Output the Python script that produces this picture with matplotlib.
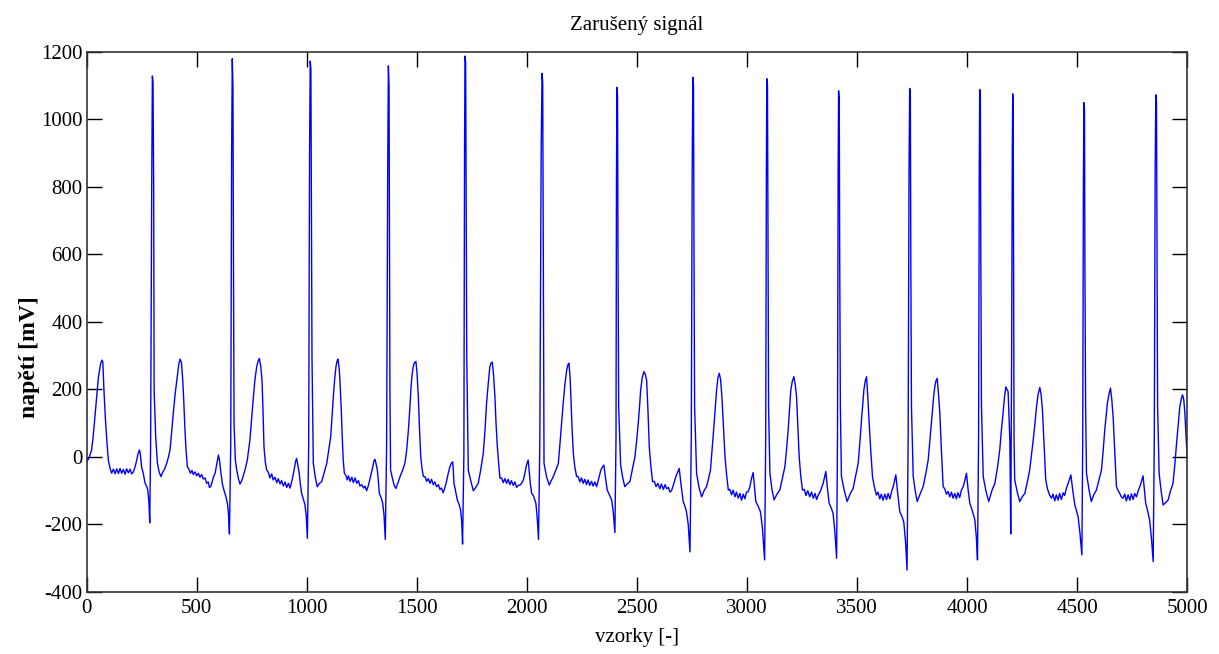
import numpy as np
import matplotlib
matplotlib.use('Agg')
import matplotlib.pyplot as plt

# body EKG signalu (vzorek, napeti v mV), po jednotlivych uderech
beat_01 = [(0, -18), (4, -5), (8, -8), (15, 5), (23, 21), (30, 60), (38, 119), (46, 180), (54, 237), (60, 262),
	(64, 277), (70, 287), (74, 282), (79, 198), (85, 120), (92, 50), (99, -10), (107, -34), (114, -48), (122, -36),
	(130, -50), (137, -35), (145, -49), (152, -34), (160, -48), (167, -37), (175, -51), (182, -35), (190, -47),
	(198, -36), (205, -50), (213, -44), (220, -30), (228, -9), (234, 10), (240, 21), (244, 10), (250, -29),
	(258, -50), (266, -78), (272, -85), (278, -98), (283, -130), (287, -195), (291, 35), (296, 800), (299, 1129),
	(302, 1110), (305, 780), (307, 198)]
beat_02 = [(314, 60), (322, -19), (330, -45), (338, -58), (346, -45), (355, -35), (364, -19), (372, 0), (379, 21),
	(386, 70), (394, 130), (403, 190), (412, 238), (419, 275), (425, 290), (431, 280), (437, 228), (442, 160),
	(447, 80), (452, 20), (458, -29), (465, -36), (472, -48), (479, -40), (485, -52), (493, -44), (500, -56),
	(508, -48), (515, -60), (523, -52), (530, -65), (538, -62), (546, -78), (553, -74), (558, -90), (564, -88),
	(570, -75), (576, -60), (584, -48), (592, -20), (599, 6), (604, -10), (609, -40), (617, -80), (624, -98),
	(632, -115), (640, -138), (645, -170), (649, -228), (655, 40), (659, 900), (662, 1180), (665, 1100),
	(667, 650), (670, 100)]
beat_03 = [(676, -10), (682, -38), (690, -65), (697, -80), (705, -70), (712, -55), (720, -38), (730, -10), (742, 50),
	(750, 115), (758, 179), (765, 230), (773, 268), (780, 285), (785, 292), (791, 270), (797, 228), (801, 150),
	(806, 30), (812, -15), (818, -38), (826, -46), (833, -62), (841, -50), (848, -68), (856, -60), (864, -76),
	(871, -64), (879, -80), (886, -70), (894, -86), (902, -74), (909, -90), (917, -78), (924, -92), (932, -73),
	(938, -55), (944, -34), (950, -12), (954, -4), (960, -25), (966, -48), (972, -85), (977, -108), (985, -125),
	(992, -142), (998, -175), (1003, -241), (1009, 30), (1013, 900), (1016, 1173), (1019, 1150), (1021, 800),
	(1024, 300)]
beat_04 = [(1030, -19), (1039, -60), (1048, -88), (1058, -78), (1068, -73), (1080, -45), (1091, -19), (1100, 20),
	(1109, 60), (1115, 120), (1121, 179), (1127, 230), (1133, 268), (1138, 284), (1142, 290), (1147, 265),
	(1151, 228), (1157, 140), (1162, 50), (1166, -10), (1171, -48), (1178, -54), (1184, -68), (1190, -56),
	(1197, -72), (1205, -60), (1212, -76), (1220, -62), (1227, -78), (1235, -70), (1242, -86), (1250, -82),
	(1258, -92), (1265, -86), (1272, -100), (1280, -85), (1290, -58), (1300, -30), (1306, -10), (1310, -7),
	(1315, -20), (1321, -39), (1326, -75), (1330, -108), (1338, -120), (1345, -137), (1351, -170), (1357, -244),
	(1363, 31), (1368, 850), (1371, 1159), (1374, 1100), (1376, 600), (1378, 200)]
beat_05 = [(1381, -39), (1390, -65), (1398, -85), (1405, -93), (1414, -78), (1424, -58), (1435, -40), (1446, -19),
	(1454, 20), (1462, 80), (1468, 140), (1474, 208), (1479, 245), (1484, 268), (1490, 280), (1496, 283),
	(1501, 250), (1507, 179), (1512, 90), (1518, 1), (1524, -35), (1530, -58), (1537, -58), (1545, -72),
	(1552, -64), (1560, -78), (1567, -66), (1575, -82), (1582, -74), (1590, -88), (1598, -82), (1605, -96),
	(1612, -92), (1620, -106), (1628, -90), (1636, -70), (1643, -48), (1650, -30), (1656, -20), (1663, -14),
	(1666, -40), (1669, -78), (1676, -100), (1684, -127), (1692, -140), (1699, -157), (1704, -190), (1708, -258),
	(1714, 11), (1717, 900), (1719, 1188), (1722, 1170), (1724, 800), (1727, 300)]
beat_06 = [(1734, -39), (1745, -70), (1757, -100), (1768, -90), (1779, -78), (1790, -40), (1802, 11), (1810, 80),
	(1817, 159), (1825, 220), (1832, 268), (1837, 278), (1843, 281), (1849, 240), (1855, 179), (1860, 100),
	(1866, 31), (1872, -20), (1878, -63), (1885, -62), (1893, -76), (1900, -64), (1908, -78), (1915, -66),
	(1923, -82), (1930, -70), (1938, -84), (1946, -74), (1953, -90), (1961, -84), (1969, -83), (1976, -78),
	(1984, -68), (1991, -48), (1998, -25), (2006, -9), (2012, -50), (2016, -80), (2022, -108), (2030, -115),
	(2041, -137), (2047, -180), (2053, -244), (2059, 50), (2065, 900), (2069, 1137), (2072, 1110), (2074, 700),
	(2076, 200)]
beat_07 = [(2078, -19), (2090, -60), (2102, -83), (2111, -70), (2120, -58), (2131, -40), (2143, -19), (2148, 20),
	(2153, 60), (2159, 110), (2165, 159), (2173, 215), (2181, 258), (2186, 272), (2191, 278), (2196, 240),
	(2200, 179), (2205, 90), (2211, 11), (2218, -30), (2226, -58), (2233, -58), (2241, -74), (2248, -62),
	(2256, -78), (2263, -66), (2271, -82), (2278, -68), (2286, -84), (2294, -72), (2301, -86), (2309, -74),
	(2317, -88), (2326, -65), (2336, -39), (2343, -30), (2350, -24), (2356, -55), (2365, -98), (2375, -112),
	(2385, -127), (2392, -160), (2400, -224), (2405, 60), (2407, 800), (2409, 1095), (2412, 1070), (2414, 600),
	(2417, 150)]
beat_08 = [(2426, -24), (2435, -60), (2445, -88), (2456, -80), (2468, -73), (2480, -35), (2491, 1), (2499, 50),
	(2506, 100), (2512, 150), (2517, 199), (2524, 235), (2532, 253), (2538, 245), (2544, 228), (2550, 140),
	(2556, 31), (2563, -25), (2571, -73), (2579, -72), (2587, -88), (2595, -78), (2604, -94), (2611, -80),
	(2620, -96), (2628, -82), (2635, -94), (2643, -90), (2650, -104), (2657, -100), (2667, -80), (2677, -58),
	(2685, -45), (2692, -34), (2700, -80), (2710, -132), (2718, -145), (2725, -162), (2733, -200), (2741, -281),
	(2747, 60), (2751, 850), (2754, 1125), (2757, 1100), (2759, 650), (2762, 150)]
beat_09 = [(2771, -48), (2782, -90), (2794, -118), (2805, -100), (2816, -88), (2825, -65), (2834, -39), (2840, 10),
	(2846, 60), (2854, 130), (2862, 199), (2868, 235), (2874, 248), (2880, 230), (2886, 179), (2893, 90),
	(2900, 1), (2907, -50), (2915, -98), (2922, -96), (2930, -112), (2937, -98), (2945, -118), (2952, -104),
	(2960, -122), (2968, -108), (2975, -128), (2983, -110), (2990, -124), (2998, -104), (3005, -103), (3013, -88),
	(3020, -65), (3028, -46), (3034, -90), (3040, -132), (3050, -145), (3061, -162), (3070, -210), (3080, -305),
	(3085, 60), (3088, 850), (3090, 1121), (3093, 1100), (3095, 700), (3098, 150)]
beat_10 = [(3104, -48), (3113, -95), (3123, -127), (3136, -110), (3149, -98), (3160, -65), (3172, -29), (3180, 25),
	(3187, 80), (3193, 140), (3199, 199), (3206, 225), (3213, 238), (3219, 215), (3225, 179), (3231, 90),
	(3237, 1), (3244, -55), (3252, -98), (3260, -96), (3268, -114), (3276, -100), (3285, -118), (3293, -104),
	(3301, -122), (3309, -108), (3316, -126), (3323, -114), (3334, -100), (3346, -78), (3352, -60), (3358, -43),
	(3365, -90), (3373, -137), (3382, -150), (3391, -167), (3399, -220), (3407, -300), (3411, 50), (3414, 850),
	(3416, 1085), (3419, 1060), (3421, 600), (3424, 150)]
beat_11 = [(3429, -58), (3442, -100), (3455, -132), (3468, -110), (3482, -93), (3494, -55), (3505, -19), (3513, 45),
	(3520, 110), (3526, 160), (3531, 199), (3537, 225), (3543, 238), (3549, 175), (3555, 100), (3562, 20),
	(3570, -58), (3579, -90), (3588, -113), (3595, -104), (3603, -124), (3610, -110), (3618, -128), (3626, -110),
	(3634, -126), (3641, -108), (3649, -124), (3657, -102), (3664, -88), (3670, -70), (3676, -53), (3685, -110),
	(3694, -162), (3703, -175), (3712, -192), (3720, -250), (3727, -335), (3732, 60), (3736, 850), (3739, 1092),
	(3742, 1070), (3744, 600), (3747, 150)]
beat_12 = [(3755, -58), (3764, -100), (3773, -132), (3786, -110), (3800, -88), (3812, -50), (3823, -9), (3832, 60),
	(3842, 139), (3848, 180), (3853, 208), (3858, 225), (3864, 233), (3870, 185), (3876, 129), (3883, 20),
	(3891, -88), (3898, -94), (3906, -110), (3913, -102), (3921, -118), (3929, -104), (3936, -122), (3944, -108),
	(3951, -124), (3958, -106), (3966, -120), (3974, -98), (3982, -88), (3990, -68), (3997, -48), (4004, -95),
	(4012, -137), (4024, -160), (4035, -187), (4042, -240), (4047, -305), (4052, 60), (4055, 850), (4057, 1089),
	(4060, 1070), (4062, 600), (4065, 150)]
beat_13 = [(4073, -58), (4085, -100), (4098, -132), (4112, -100), (4126, -78), (4138, -30), (4148, 21), (4155, 75),
	(4163, 129), (4170, 180), (4176, 208), (4181, 200), (4186, 194), (4190, 120), (4194, 50), (4196, -100),
	(4198, -228), (4202, 300), (4205, 900), (4207, 1076), (4209, 1050), (4211, 500), (4213, 50)]
beat_14 = [(4216, -68), (4228, -105), (4239, -132), (4250, -118), (4262, -108), (4273, -75), (4284, -39), (4292, 5),
	(4300, 50), (4308, 100), (4315, 149), (4322, 185), (4330, 206), (4336, 185), (4342, 139), (4350, 30),
	(4357, -68), (4365, -95), (4374, -112), (4383, -122), (4390, -110), (4398, -130), (4405, -112), (4413, -128),
	(4420, -108), (4428, -126), (4436, -106), (4443, -114), (4451, -92), (4459, -78), (4465, -65), (4471, -53),
	(4480, -100), (4489, -142), (4497, -160), (4504, -177), (4513, -230), (4521, -290), (4525, 50), (4528, 800),
	(4530, 1050), (4533, 1030), (4535, 550), (4538, 150)]
beat_15 = [(4542, -48), (4553, -95), (4564, -132), (4575, -112), (4587, -98), (4598, -70), (4610, -39), (4618, 20),
	(4625, 80), (4631, 120), (4637, 159), (4644, 185), (4651, 204), (4657, 170), (4663, 120), (4670, 20),
	(4678, -88), (4686, -100), (4693, -108), (4700, -118), (4708, -122), (4716, -110), (4723, -130), (4731, -112),
	(4739, -128), (4746, -109), (4754, -126), (4761, -108), (4769, -118), (4778, -98), (4787, -83), (4793, -70),
	(4799, -56), (4805, -95), (4811, -137), (4820, -160), (4829, -187), (4837, -240), (4845, -310), (4850, 50),
	(4854, 850), (4857, 1073), (4860, 1050), (4862, 650), (4865, 150)]
beat_16 = [(4872, -48), (4881, -100), (4890, -142), (4902, -135), (4913, -127), (4924, -100), (4935, -78), (4943, -25),
	(4950, 31), (4958, 90), (4966, 149), (4972, 170), (4978, 184), (4981, 178), (4984, 169), (4989, 130),
	(4993, 80), (4997, 30), (4999, 1)]

x_ticks = [0, 500, 1000, 1500, 2000, 2500, 3000, 3500, 4000, 4500, 5000]
y_ticks = [-400, -200, 0, 200, 400, 600, 800, 1000, 1200]


def main():
	beats = [beat_01, beat_02, beat_03, beat_04, beat_05, beat_06, beat_07, beat_08,
		beat_09, beat_10, beat_11, beat_12, beat_13, beat_14, beat_15, beat_16]
	points = np.array([p for b in beats for p in b], dtype=float)

	plt.rcParams['font.family'] = ['Liberation Serif', 'DejaVu Serif']
	plt.rcParams['axes.unicode_minus'] = False

	fig = plt.figure(figsize=(12.19, 6.54), dpi=100)
	ax = fig.add_axes([0.071, 0.0948, 0.903, 0.8257])

	ax.plot(points[:, 0], points[:, 1], color='#0000ff', linewidth=1.0)

	ax.set_xlim(0, 5000)
	ax.set_ylim(-400, 1200)
	ax.set_xticks(x_ticks)
	ax.set_yticks(y_ticks)
	ax.tick_params(direction='in', top=True, right=True, length=11, width=1,
		labelsize=15, colors='black')
	ax.tick_params(axis='x', pad=5)
	ax.tick_params(axis='y', pad=3)
	for s in ax.spines.values():
		s.set_linewidth(1.2)
		s.set_color('#333333')

	ax.set_title('Zarušený signál', fontsize=15, pad=16)
	ax.set_xlabel('vzorky [-]', fontsize=15)
	ax.set_ylabel('napětí [mV]', fontsize=17, fontweight='bold')
	# popisek osy y je v originalu posunuty dolu
	ax.yaxis.set_label_coords(-0.042, 0.435)
	ax.xaxis.set_label_coords(0.5, -0.066)

	fig.savefig('out.png', dpi=100)


if __name__ == '__main__':
	main()
